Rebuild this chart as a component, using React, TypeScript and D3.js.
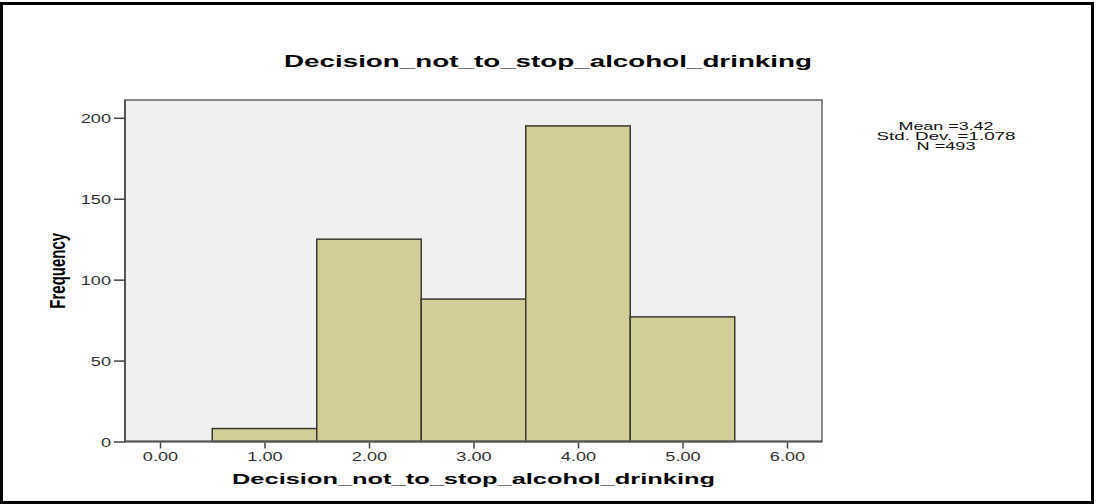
import React, { useEffect, useRef } from 'react';
import * as d3 from 'd3';

const binCenters = [1, 2, 3, 4, 5];
const frequencies = [8, 125, 88, 195, 77];
const xTicks = [0, 1, 2, 3, 4, 5, 6];
const yTicks = [0, 50, 100, 150, 200];
const statsLines = ['Mean =3.42', 'Std. Dev. =1.078', 'N =493'];
const statsWidths = [95, 139, 59];
const chartTitle = 'Decision_not_to_stop_alcohol_drinking';
const xTitle = 'Decision_not_to_stop_alcohol_drinking';
const yTitle = 'Frequency';

const FONT = '"Liberation Sans", Arial, sans-serif';

// the source image is stretched sideways, so widen the glyphs to match
function stretch(sel: d3.Selection<any, any, any, any>, factor: number) {
  sel.each(function (this: SVGTextElement) {
    const w = this.getComputedTextLength();
    d3.select(this).attr('textLength', w * factor).attr('lengthAdjust', 'spacingAndGlyphs');
  });
}

export default function App() {
  const ref = useRef<SVGSVGElement>(null);

  useEffect(() => {
    if (!ref.current) return;
    const svg = d3.select(ref.current);
    svg.selectAll('*').remove();

    const plot = { left: 125, right: 822, top: 100, bottom: 441.5 };

    const x = d3.scaleLinear().domain([-0.335, 6.335]).range([plot.left, plot.right]);
    const y = d3.scaleLinear().domain([0, 211]).range([plot.bottom, plot.top]);

    svg.append('rect')
      .attr('width', 1096).attr('height', 504).attr('fill', '#fff');

    // outer frame
    svg.append('rect')
      .attr('x', 1.5).attr('y', 3.5).attr('width', 1091).attr('height', 499)
      .attr('fill', 'none').attr('stroke', '#000').attr('stroke-width', 3);

    // plot background
    svg.append('rect')
      .attr('x', plot.left).attr('y', plot.top)
      .attr('width', plot.right - plot.left).attr('height', plot.bottom - plot.top)
      .attr('fill', '#f0f0f0');

    // bars
    svg.selectAll('.bar')
      .data(binCenters)
      .enter()
      .append('rect')
      .attr('class', 'bar')
      .attr('x', d => x(d - 0.5))
      .attr('y', (d, i) => y(frequencies[i]))
      .attr('width', d => x(d + 0.5) - x(d - 0.5))
      .attr('height', (d, i) => y(0) - y(frequencies[i]))
      .attr('fill', '#d3ce97')
      .attr('stroke', '#3a3a30')
      .attr('stroke-width', 1.5);

    // plot border
    svg.append('rect')
      .attr('x', plot.left).attr('y', plot.top)
      .attr('width', plot.right - plot.left).attr('height', plot.bottom - plot.top)
      .attr('fill', 'none').attr('stroke', '#666').attr('stroke-width', 1.5);
    svg.append('path')
      .attr('d', `M${plot.left},${plot.top}V${plot.bottom}H${plot.right}`)
      .attr('fill', 'none').attr('stroke', '#555').attr('stroke-width', 2);

    // Y-axis
    const yAxis = svg.append('g')
      .attr('transform', `translate(${plot.left},0)`)
      .call(d3.axisLeft(y).tickValues(yTicks).tickFormat(d3.format('d')).tickSize(11).tickPadding(3))
      .attr('font-size', '12.5px')
      .attr('font-family', FONT);
    yAxis.select('.domain').remove();
    yAxis.selectAll('line').attr('stroke', '#444').attr('stroke-width', 1.5);
    yAxis.selectAll('text').attr('fill', '#333').attr('dy', '0.36em');
    stretch(yAxis.selectAll('text'), 1.45);

    // X-axis
    const xAxis = svg.append('g')
      .attr('transform', `translate(0,${plot.bottom + 1})`)
      .call(d3.axisBottom(x).tickValues(xTicks).tickFormat(d3.format('.2f')).tickSize(6).tickPadding(4))
      .attr('font-size', '12.5px')
      .attr('font-family', FONT);
    xAxis.select('.domain').remove();
    xAxis.selectAll('line').attr('stroke', '#444').attr('stroke-width', 1.5);
    xAxis.selectAll('text').attr('fill', '#333');
    stretch(xAxis.selectAll('text'), 1.45);

    // titles
    svg.append('text')
      .attr('x', 548).attr('y', 67)
      .attr('text-anchor', 'middle')
      .attr('font-family', FONT).attr('font-weight', 'bold').attr('font-size', '17px')
      .attr('textLength', 528).attr('lengthAdjust', 'spacingAndGlyphs')
      .text(chartTitle);

    svg.append('text')
      .attr('x', x(3)).attr('y', 484)
      .attr('text-anchor', 'middle')
      .attr('font-family', FONT).attr('font-weight', 'bold').attr('font-size', '15px')
      .attr('textLength', 483).attr('lengthAdjust', 'spacingAndGlyphs')
      .text(xTitle);

    svg.append('text')
      .attr('transform', `translate(65,${(plot.top + plot.bottom) / 2}) scale(1.45,1) rotate(-90)`)
      .attr('text-anchor', 'middle')
      .attr('font-family', FONT).attr('font-weight', 'bold').attr('font-size', '15px')
      .text(yTitle);

    // stats box
    svg.selectAll('.stat')
      .data(statsLines)
      .enter()
      .append('text')
      .attr('class', 'stat')
      .attr('x', 946)
      .attr('y', (d, i) => 129.5 + i * 10)
      .attr('text-anchor', 'middle')
      .attr('font-family', FONT).attr('font-size', '11px').attr('fill', '#111')
      .attr('textLength', (d, i) => statsWidths[i]).attr('lengthAdjust', 'spacingAndGlyphs')
      .text(d => d);
  }, []);

  return (
    <svg
      ref={ref}
      width={1096}
      height={504}
      style={{ position: 'absolute', left: 0, top: 0, display: 'block' }}
    />
  );
}
